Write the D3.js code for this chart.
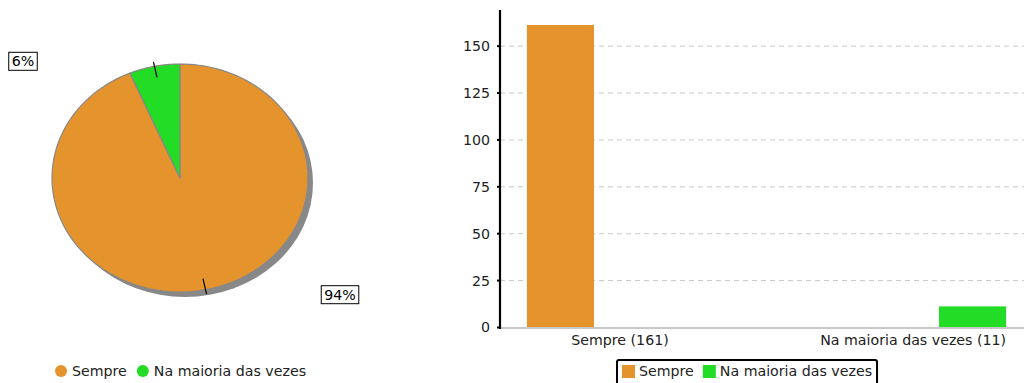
<!DOCTYPE html>
<html><head><meta charset="utf-8">
<script src="https://cdn.jsdelivr.net/npm/d3@7"></script>
<style>body{margin:0;background:#fff}svg{display:block;font-family:"DejaVu Sans",sans-serif}</style>
</head><body><svg id="c" width="1024" height="383"></svg>
<script>
const categories = ["Sempre", "Na maioria das vezes"];
const values = [161, 11];
const colors = ["#e5932c", "#22dc26"];
const yTicks = [0, 25, 50, 75, 100, 125, 150];

const FS = 14.2;
const svg = d3.select("#c");
const total = d3.sum(values);

// ---- Pie ----
const cx = 180, cy = 178, rx = 128, ry = 114;
const pie = d3.pie().sort(null).startAngle(0).endAngle(2 * Math.PI).value(d => d);
const arcs = pie(values);
const ptAt = (a, s) => [cx + rx * s * Math.sin(a), cy - ry * s * Math.cos(a)];
function ellPath(a0, a1) {
  const n = 160, pts = [[cx, cy]];
  for (let i = 0; i <= n; i++) { const a = a0 + (a1 - a0) * i / n; pts.push(ptAt(a, 1)); }
  return d3.line()(pts) + "Z";
}
svg.append("ellipse").attr("cx", cx + 5).attr("cy", cy + 5).attr("rx", rx).attr("ry", ry).attr("fill", "#888");
const pg = svg.append("g");
arcs.forEach((d, i) => {
  pg.append("path").attr("d", ellPath(d.startAngle, d.endAngle))
    .attr("fill", colors[i]).attr("stroke", "#888").attr("stroke-width", 1.2).attr("stroke-linejoin", "round");
});
arcs.forEach((d, i) => {
  const m = (d.startAngle + d.endAngle) / 2;
  const p1 = ptAt(m, 0.9), p2 = ptAt(m, 1.04);
  svg.append("line").attr("x1", p1[0]).attr("y1", p1[1]).attr("x2", p2[0]).attr("y2", p2[1])
    .attr("stroke", "#000").attr("stroke-width", 1.2);
  const pct = Math.round(values[i] / total * 100) + "%";
  const p = ptAt(m, 1);
  const left = Math.sin(m) < 0;
  const lx = left ? 23 : 340;
  const ly = p[1] + (left ? -5 : 5);
  const t = svg.append("text").attr("x", lx).attr("y", ly + 5).attr("text-anchor", "middle")
    .attr("font-size", FS).attr("fill", "#000").text(pct);
  const bb = t.node().getBBox();
  svg.insert("rect", () => t.node()).attr("x", bb.x - 3).attr("y", ly - 9).attr("width", bb.width + 6).attr("height", 18)
    .attr("fill", "#fff").attr("stroke", "#000").attr("stroke-width", 1);
});
// pie legend
let lx0 = 61;
categories.forEach((c, i) => {
  svg.append("circle").attr("cx", lx0).attr("cy", 371).attr("r", 6).attr("fill", colors[i]);
  const t = svg.append("text").attr("x", lx0 + 11).attr("y", 376).attr("font-size", FS).attr("fill", "#222").text(c);
  lx0 = lx0 + 11 + t.node().getComputedTextLength() + 16;
});

// ---- Bar chart ----
const y = d3.scaleLinear().domain([0, 169]).range([327, 10]);
const x0 = d3.scaleBand().domain(categories).range([500, 1033]).paddingInner(0.611).paddingOuter(0.078);
const x1 = d3.scaleBand().domain(d3.range(categories.length)).range([0, x0.bandwidth()]);

svg.append("g").selectAll("line").data(yTicks.filter(t => t > 0)).join("line")
  .attr("x1", 500).attr("x2", 1024).attr("y1", d => y(d) + 0.5).attr("y2", d => y(d) + 0.5)
  .attr("stroke", "#c8c8c8").attr("stroke-width", 1).attr("stroke-dasharray", "5,4");
svg.append("line").attr("x1", 500).attr("x2", 1024).attr("y1", y(0) + 1).attr("y2", y(0) + 1)
  .attr("stroke", "#c8c8c8").attr("stroke-width", 2);
categories.forEach((c, i) => {
  svg.append("rect").attr("x", x0(c) + x1(i)).attr("width", x1.bandwidth())
    .attr("y", y(values[i])).attr("height", y(0) - y(values[i])).attr("fill", colors[i]);
});
const ya = svg.append("g").attr("transform", "translate(500,0)")
  .call(d3.axisLeft(y).tickValues(yTicks).tickSize(3).tickPadding(7));
ya.select(".domain").remove();
ya.selectAll(".tick line").attr("stroke", "#000").attr("stroke-width", 2);
ya.selectAll(".tick text").attr("font-size", FS).attr("fill", "#222").attr("font-family", "DejaVu Sans").attr("dy", "0.35em");
svg.append("line").attr("x1", 500).attr("x2", 500).attr("y1", y.range()[1]).attr("y2", y(0) + 2)
  .attr("stroke", "#000").attr("stroke-width", 2.2);
const plotRight = x0.range()[1] - x0.step() * x0.paddingOuter();
categories.forEach((c, i) => {
  const t = svg.append("text").attr("font-size", FS).attr("fill", "#222").attr("y", 345)
    .attr("text-anchor", "middle").text(`${c} (${values[i]})`);
  const w = t.node().getComputedTextLength();
  let cxl = x0(c) + x0.bandwidth() / 2 + 26;
  if (cxl + w / 2 > plotRight) cxl = plotRight - w / 2;
  t.attr("x", cxl);
});
// bar legend
const lbox = svg.append("rect");
const lg = svg.append("g");
let bx = 622;
categories.forEach((c, i) => {
  lg.append("rect").attr("x", bx).attr("y", 365).attr("width", 13).attr("height", 13).attr("fill", colors[i]);
  const t = lg.append("text").attr("x", bx + 17).attr("y", 376).attr("font-size", FS).attr("fill", "#222").text(c);
  bx = bx + 17 + t.node().getComputedTextLength() + 9;
});
lbox.attr("x", 617).attr("y", 360).attr("width", bx - 617 - 4).attr("height", 26)
  .attr("rx", 2).attr("fill", "#fff").attr("stroke", "#000").attr("stroke-width", 2);
</script></body></html>
